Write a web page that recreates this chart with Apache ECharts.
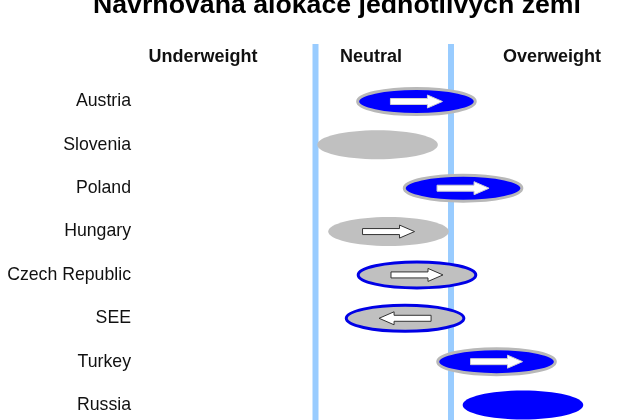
<!DOCTYPE html>
<html>
<head>
<meta charset="utf-8">
<script src="https://cdn.jsdelivr.net/npm/echarts@6/dist/echarts.min.js"></script>
<style>html,body{margin:0;padding:0;background:#fff}#c{width:640px;height:420px}</style>
</head>
<body>
<div id="c"></div>
<script>
// ---- data ----
var titleText = 'Navrhovaná alokace jednotlivých zemí';
var zoneLabels = ['Underweight', 'Neutral', 'Overweight'];
var countries = ['Austria', 'Slovenia', 'Poland', 'Hungary', 'Czech Republic', 'SEE', 'Turkey', 'Russia'];
// allocation position: 0..1 underweight, 1..2 neutral, 2..3 overweight (ellipse centre)
var allocation = [1.745, 1.458, 2.089, 1.539, 1.749, 1.661, 2.336, 2.531];
var fillKind = ['blue', 'gray', 'blue', 'gray', 'gray', 'gray', 'blue', 'blue'];
var outlineKind = ['gray', 'none', 'gray', 'none', 'blue', 'blue', 'gray', 'none'];
var arrowDir = ['right', 'none', 'right', 'right', 'right', 'left', 'right', 'none'];
var neutralBounds = [1, 2];

// ---- styles ----
var FONT = '"Liberation Sans", Arial, sans-serif';
var COLORS = { blue: '#0000ff', gray: '#c0c0c0' };
var OUTLINE = { blue: '#0000e6', gray: '#b8b8b8' };
var ELLIPSE_SPAN = 0.89;
var ELLIPSE_H = 29;
var ZONE_X = [203, 371, 552];

var chart = echarts.init(document.getElementById('c'), null, { renderer: 'canvas' });

function arrowPoints(cx, cy, dir) {
  var s = dir === 'left' ? -1 : 1;
  var pts = [[-26, -3], [11, -3], [11, -6.5], [26, 0], [11, 6.5], [11, 3], [-26, 3]];
  return pts.map(function (p) { return [cx + s * p[0], cy + p[1]]; });
}

var option = {
  animation: false,
  backgroundColor: '#fff',
  title: {
    text: titleText,
    left: 88,
    top: -13,
    textStyle: { fontFamily: FONT, fontSize: 26.7, fontWeight: 'bold', color: '#000' }
  },
  graphic: zoneLabels.map(function (t, i) {
    return { type: 'text', x: ZONE_X[i], y: 57, z: 10,
             style: { text: t, align: 'center', verticalAlign: 'middle',
                      font: 'bold 18px ' + FONT, fill: '#111' } };
  }),
  grid: { left: 180, right: 53.5, top: 101.5, height: 303.5, containLabel: false },
  xAxis: { type: 'value', min: 0, max: 3, show: false },
  yAxis: {
    type: 'category', data: countries, inverse: true, boundaryGap: false,
    axisLine: { show: false }, axisTick: { show: false }, splitLine: { show: false },
    axisLabel: { margin: 49, fontFamily: FONT, fontSize: 17.7, color: '#111' }
  },
  series: [
    {
      type: 'custom', name: 'bounds', z: 1, clip: false,
      data: neutralBounds.map(function (v) { return [v, 0]; }),
      renderItem: function (params, api) {
        var p = api.coord([api.value(0), 0]);
        return { type: 'rect', shape: { x: p[0] - 3, y: 44, width: 6, height: 380 },
                 style: { fill: '#99ccff' } };
      }
    },
    {
      type: 'custom', name: 'allocation', z: 2, clip: false,
      data: allocation.map(function (v, i) { return [v, i]; }),
      renderItem: function (params, api) {
        var i = params.dataIndex;
        var c = api.coord([api.value(0), api.value(1)]);
        var w = api.size([ELLIPSE_SPAN, 0])[0];
        var ol = outlineKind[i];
        var lw = ol === 'none' ? 0 : 3;
        var children = [{
          type: 'ellipse',
          shape: { cx: c[0], cy: c[1], rx: w / 2 - lw / 2, ry: ELLIPSE_H / 2 - lw / 2 },
          style: { fill: COLORS[fillKind[i]], stroke: ol === 'none' ? null : OUTLINE[ol], lineWidth: lw }
        }];
        if (arrowDir[i] !== 'none') {
          children.push({
            type: 'polygon',
            shape: { points: arrowPoints(c[0], c[1], arrowDir[i]) },
            style: { fill: '#fff', stroke: fillKind[i] === 'blue' ? '#d0d0d0' : '#333', lineWidth: 1 }
          });
        }
        return { type: 'group', children: children };
      }
    }
  ]
};
chart.setOption(option);
</script>
</body>
</html>
